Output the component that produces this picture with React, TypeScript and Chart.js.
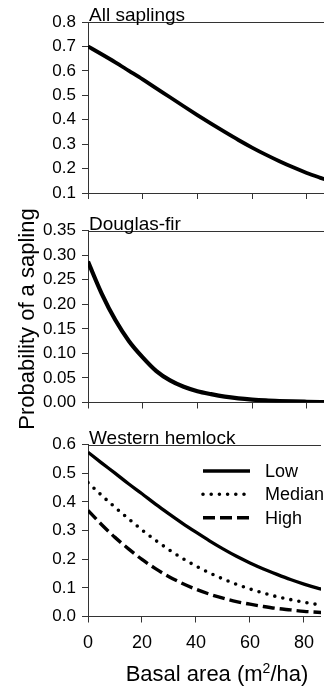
import React, { useEffect, useRef } from 'react';
import { Chart, registerables } from 'chart.js';

Chart.register(...registerables);

// ---------- data ----------
const basalArea = [0, 5, 10, 15, 20, 25, 30, 35, 40, 45, 50, 55, 60, 65, 70, 75, 80, 85, 90];
const allSaplings = [0.700, 0.668, 0.635, 0.600, 0.565, 0.528, 0.492, 0.455, 0.419, 0.384, 0.350, 0.317, 0.286, 0.257, 0.230, 0.205, 0.182, 0.162, 0.143];
const douglasFir = [0.287, 0.222, 0.168, 0.125, 0.092, 0.064, 0.045, 0.032, 0.023, 0.017, 0.012, 0.0085, 0.006, 0.0042, 0.003, 0.0021, 0.0015, 0.001, 0.0007];
const hemlockLow = [0.573, 0.536, 0.500, 0.463, 0.428, 0.392, 0.358, 0.325, 0.294, 0.264, 0.236, 0.210, 0.187, 0.166, 0.147, 0.129, 0.113, 0.099, 0.087];
const hemlockMedian = [0.467, 0.423, 0.381, 0.341, 0.302, 0.266, 0.233, 0.203, 0.176, 0.152, 0.131, 0.112, 0.096, 0.082, 0.069, 0.059, 0.050, 0.042, 0.036];
const hemlockHigh = [0.370, 0.321, 0.276, 0.236, 0.199, 0.167, 0.139, 0.115, 0.095, 0.078, 0.064, 0.052, 0.043, 0.035, 0.028, 0.023, 0.018, 0.015, 0.012];

const panelTitles = ['All saplings', 'Douglas-fir', 'Western hemlock'];
const legendLabels = ['Low', 'Median', 'High'];
const xTickValues = [0, 20, 40, 60, 80];
const yTicksAll = [0.1, 0.2, 0.3, 0.4, 0.5, 0.6, 0.7, 0.8];
const yTicksFir = [0, 0.05, 0.1, 0.15, 0.2, 0.25, 0.3, 0.35];
const yTicksHemlock = [0, 0.1, 0.2, 0.3, 0.4, 0.5, 0.6];
const yTitle = 'Probability of a sapling';
const xTitleParts = ['Basal area (m', '2', '/ha)'];

// ---------- styling ----------
const W = 324;
const H = 687;
const FONT = '"Liberation Sans", Arial, Helvetica, sans-serif';
const AXIS = '#333333';
const X_MAX = 86.3;

const toPoints = (ys: number[]) => basalArea.map((x, i) => ({ x, y: ys[i] }));

const decorPlugin = {
  id: 'decor',
  afterDraw(chart: any, _args: any, opts: any) {
    const { ctx, chartArea } = chart;
    ctx.save();
    // top frame line
    ctx.strokeStyle = AXIS;
    ctx.lineWidth = 1;
    const ty = Math.round(chartArea.top) + 0.5;
    ctx.beginPath();
    ctx.moveTo(chartArea.left, ty);
    ctx.lineTo(chartArea.right, ty);
    ctx.stroke();
    // panel title
    ctx.fillStyle = '#000';
    ctx.font = `19px ${FONT}`;
    ctx.textAlign = 'left';
    ctx.textBaseline = 'alphabetic';
    ctx.fillText(opts.title, chartArea.left + 1, chartArea.top - 1);
    // shared y title
    if (opts.yTitle) {
      ctx.save();
      ctx.translate(28, 319);
      ctx.rotate(-Math.PI / 2);
      ctx.font = `22px ${FONT}`;
      ctx.textAlign = 'center';
      ctx.textBaseline = 'middle';
      ctx.fillText(opts.yTitle, 0, 0);
      ctx.restore();
    }
    // x title with superscript
    if (opts.xTitle) {
      const big = `22px ${FONT}`;
      const small = `14px ${FONT}`;
      ctx.textAlign = 'left';
      ctx.textBaseline = 'alphabetic';
      ctx.font = big;
      const w1 = ctx.measureText(xTitleParts[0]).width;
      const w3 = ctx.measureText(xTitleParts[2]).width;
      ctx.font = small;
      const w2 = ctx.measureText(xTitleParts[1]).width;
      const total = w1 + w2 + w3;
      const base = 681;
      let x = 217 - total / 2;
      ctx.font = big;
      ctx.fillText(xTitleParts[0], x, base);
      x += w1;
      ctx.font = small;
      ctx.fillText(xTitleParts[1], x, base - 8);
      x += w2;
      ctx.font = big;
      ctx.fillText(xTitleParts[2], x, base);
    }
    // legend
    if (opts.legend) {
      const rows = [471, 494.3, 517.7];
      chart.data.datasets.forEach((ds: any, i: number) => {
        const y = rows[i];
        ctx.save();
        ctx.strokeStyle = '#000';
        ctx.lineWidth = ds.borderWidth;
        ctx.lineCap = ds.borderCapStyle || 'butt';
        ctx.setLineDash(ds.borderDash || []);
        ctx.beginPath();
        ctx.moveTo(203, y);
        ctx.lineTo(250, y);
        ctx.stroke();
        ctx.restore();
        ctx.fillStyle = '#000';
        ctx.font = `18px ${FONT}`;
        ctx.textAlign = 'left';
        ctx.textBaseline = 'middle';
        ctx.fillText(legendLabels[i], 265, y + 1);
      });
    }
    ctx.restore();
  },
};

function makeConfig(p: {
  datasets: any[];
  yTicks: number[];
  decimals: number;
  padTop: number;
  padBottom: number;
  xHeight: number;
  showX: boolean;
  title: string;
  yTitle?: string;
  legend?: boolean;
}): any {
  const yMin = p.yTicks[0];
  const yMax = p.yTicks[p.yTicks.length - 1];
  return {
    type: 'line',
    data: { datasets: p.datasets },
    plugins: [decorPlugin],
    options: {
      animation: false,
      responsive: false,
      maintainAspectRatio: false,
      events: [],
      layout: { padding: { top: p.padTop, bottom: p.padBottom, left: 0, right: 0 } },
      elements: { point: { radius: 0 } },
      plugins: {
        legend: { display: false },
        tooltip: { enabled: false },
        decor: { title: p.title, yTitle: p.yTitle, legend: p.legend, xTitle: p.showX },
      },
      scales: {
        x: {
          type: 'linear',
          min: 0,
          max: X_MAX,
          afterBuildTicks: (s: any) => {
            s.ticks = xTickValues.map((v) => ({ value: v }));
          },
          afterFit: (s: any) => {
            s.height = p.xHeight;
          },
          ticks: {
            display: p.showX,
            autoSkip: false,
            maxRotation: 0,
            color: '#000',
            padding: 10,
            font: { family: FONT, size: 18 },
          },
          grid: { drawOnChartArea: false, drawTicks: true, tickLength: 6, color: AXIS },
          border: { color: AXIS, width: 1 },
        },
        y: {
          type: 'linear',
          min: yMin,
          max: yMax,
          afterBuildTicks: (s: any) => {
            s.ticks = p.yTicks.map((v) => ({ value: v }));
          },
          afterFit: (s: any) => {
            s.width = 88;
          },
          ticks: {
            autoSkip: false,
            color: '#000',
            padding: 6,
            font: { family: FONT, size: 17 },
            callback: (v: any) => Number(v).toFixed(p.decimals),
          },
          grid: { drawOnChartArea: false, drawTicks: true, tickLength: 6, color: AXIS },
          border: { color: AXIS, width: 1 },
        },
      },
    },
  };
}

const solid = (data: number[], width: number) => ({
  data: toPoints(data),
  borderColor: '#000',
  borderWidth: width,
  fill: false,
  cubicInterpolationMode: 'monotone',
  pointRadius: 0,
});

export default function App() {
  const c1 = useRef<HTMLCanvasElement>(null);
  const c2 = useRef<HTMLCanvasElement>(null);
  const c3 = useRef<HTMLCanvasElement>(null);

  useEffect(() => {
    const charts: Chart[] = [];
    charts.push(
      new Chart(
        c1.current!,
        makeConfig({
          datasets: [solid(allSaplings, 3.8)],
          yTicks: yTicksAll,
          decimals: 1,
          padTop: 22,
          padBottom: H - 193 - 17,
          xHeight: 17,
          showX: false,
          title: panelTitles[0],
        })
      )
    );
    charts.push(
      new Chart(
        c2.current!,
        makeConfig({
          datasets: [solid(douglasFir, 4.2)],
          yTicks: yTicksFir,
          decimals: 2,
          padTop: 230.7,
          padBottom: H - 402.5 - 17,
          xHeight: 17,
          showX: false,
          title: panelTitles[1],
          yTitle,
        })
      )
    );
    charts.push(
      new Chart(
        c3.current!,
        makeConfig({
          datasets: [
            { ...solid(hemlockLow, 3.3), label: legendLabels[0] },
            {
              ...solid(hemlockMedian, 3.6),
              label: legendLabels[1],
              borderDash: [0, 8.2],
              borderCapStyle: 'round',
            },
            {
              ...solid(hemlockHigh, 3.4),
              label: legendLabels[2],
              borderDash: [12, 5],
              borderCapStyle: 'butt',
            },
          ],
          yTicks: yTicksHemlock,
          decimals: 1,
          padTop: 444.5,
          padBottom: 0,
          xHeight: H - 616.5,
          showX: true,
          title: panelTitles[2],
          legend: true,
        })
      )
    );
    return () => charts.forEach((c) => c.destroy());
  }, []);

  const cs: React.CSSProperties = { position: 'absolute', left: 0, top: 0, width: W, height: H };
  return (
    <div style={{ position: 'absolute', left: 0, top: 0, width: W, height: H, overflow: 'hidden', background: '#fff' }}>
      <canvas ref={c1} width={W} height={H} style={cs} />
      <canvas ref={c2} width={W} height={H} style={cs} />
      <canvas ref={c3} width={W} height={H} style={cs} />
    </div>
  );
}
